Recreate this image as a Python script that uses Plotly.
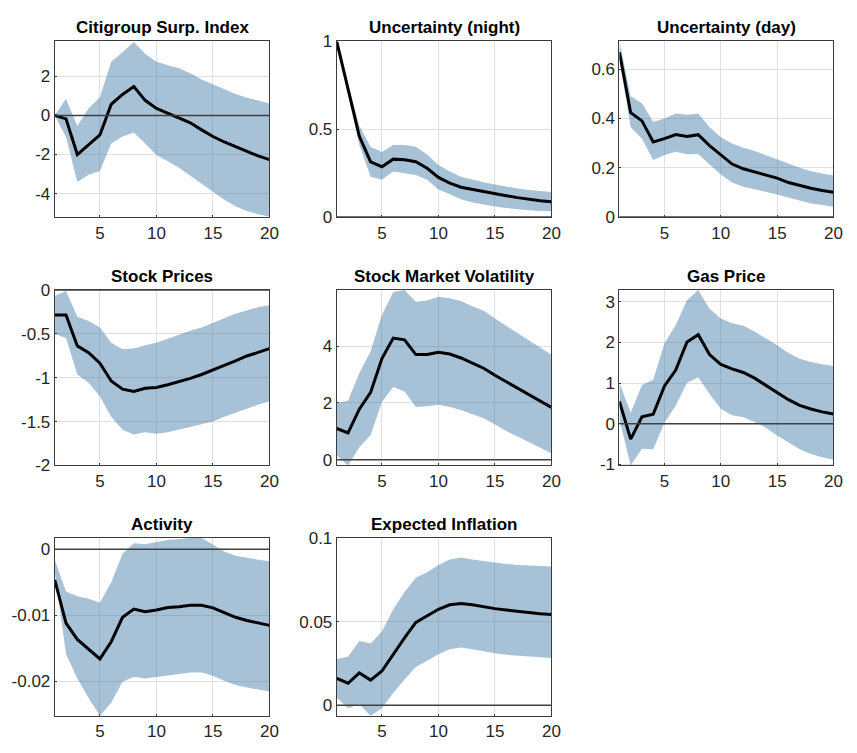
import plotly.graph_objects as go

# Horizon (periods after the shock)
horizon = list(range(1, 21))

# Panel titles
titles = [
    "Citigroup Surp. Index", "Uncertainty (night)", "Uncertainty (day)",
    "Stock Prices", "Stock Market Volatility", "Gas Price",
    "Activity", "Expected Inflation",
]

# Point estimates and confidence bands for each response
citi_irf = [0.0, -0.18, -2.0, -1.5, -1.0, 0.57, 1.07, 1.47, 0.77, 0.36,
            0.11, -0.10, -0.38, -0.74, -1.08, -1.36, -1.60, -1.85, -2.07, -2.26]
citi_hi = [0.0, 0.85, -0.54, 0.36, 0.93, 2.74, 3.23, 3.75, 3.15, 2.74,
           2.57, 2.41, 2.16, 1.84, 1.59, 1.34, 1.10, 0.90, 0.74, 0.61]
citi_lo = [0.0, -1.11, -3.41, -3.03, -2.84, -1.44, -1.08, -0.87, -1.44, -2.02,
           -2.34, -2.67, -3.08, -3.49, -3.90, -4.31, -4.64, -4.89, -5.05, -5.18]

unc_night_irf = [1.0, 0.73, 0.46, 0.315, 0.287, 0.33, 0.326, 0.315, 0.278, 0.226,
                 0.194, 0.17, 0.157, 0.144, 0.133, 0.122, 0.111, 0.10, 0.093, 0.087]
unc_night_hi = [1.0, 0.76, 0.52, 0.40, 0.37, 0.41, 0.41, 0.40, 0.356, 0.296,
                0.26, 0.23, 0.213, 0.198, 0.185, 0.172, 0.163, 0.154, 0.148, 0.143]
unc_night_lo = [1.0, 0.70, 0.41, 0.23, 0.213, 0.26, 0.25, 0.24, 0.213, 0.157,
                0.13, 0.102, 0.083, 0.07, 0.061, 0.052, 0.044, 0.039, 0.035, 0.033]

unc_day_irf = [0.668, 0.423, 0.39, 0.305, 0.318, 0.335, 0.327, 0.334, 0.29, 0.252,
               0.215, 0.196, 0.184, 0.171, 0.158, 0.14, 0.127, 0.117, 0.108, 0.101]
unc_day_hi = [0.712, 0.49, 0.462, 0.386, 0.40, 0.42, 0.415, 0.42, 0.364, 0.324,
              0.298, 0.281, 0.268, 0.252, 0.235, 0.217, 0.20, 0.186, 0.177, 0.169]
unc_day_lo = [0.64, 0.364, 0.318, 0.232, 0.252, 0.265, 0.255, 0.256, 0.213, 0.173,
              0.14, 0.123, 0.113, 0.104, 0.092, 0.079, 0.066, 0.055, 0.049, 0.042]

stock_irf = [-0.285, -0.285, -0.637, -0.715, -0.833, -1.037, -1.13, -1.156, -1.12, -1.11,
             -1.08, -1.044, -1.007, -0.963, -0.915, -0.859, -0.807, -0.752, -0.711, -0.667]
stock_hi = [-0.067, -0.01, -0.304, -0.352, -0.426, -0.60, -0.674, -0.667, -0.63, -0.60,
            -0.556, -0.507, -0.463, -0.426, -0.378, -0.322, -0.27, -0.23, -0.196, -0.174]
stock_lo = [-0.50, -0.548, -0.963, -1.056, -1.215, -1.444, -1.593, -1.648, -1.622, -1.637,
            -1.622, -1.593, -1.563, -1.537, -1.50, -1.444, -1.396, -1.352, -1.307, -1.267]

vol_irf = [1.10, 0.95, 1.78, 2.37, 3.56, 4.28, 4.22, 3.70, 3.70, 3.78,
           3.72, 3.58, 3.40, 3.22, 2.97, 2.74, 2.52, 2.29, 2.06, 1.84]
vol_hi = [1.99, 2.08, 3.05, 3.82, 5.09, 5.90, 5.97, 5.56, 5.60, 5.73,
          5.68, 5.58, 5.40, 5.24, 4.97, 4.71, 4.44, 4.18, 3.92, 3.69]
vol_lo = [0.16, -0.20, 0.44, 0.87, 2.03, 2.56, 2.40, 1.86, 1.88, 1.94,
          1.86, 1.75, 1.60, 1.46, 1.24, 1.01, 0.82, 0.61, 0.42, 0.22]

gas_irf = [0.55, -0.38, 0.17, 0.23, 0.93, 1.32, 2.01, 2.19, 1.70, 1.46,
           1.35, 1.26, 1.12, 0.95, 0.77, 0.59, 0.45, 0.36, 0.29, 0.24]
gas_hi = [1.00, 0.27, 0.95, 1.08, 1.98, 2.43, 3.04, 3.29, 2.83, 2.59,
          2.47, 2.41, 2.27, 2.11, 1.93, 1.74, 1.60, 1.52, 1.46, 1.42]
gas_lo = [0.10, -1.03, -0.62, -0.63, 0.02, 0.45, 1.01, 1.14, 0.73, 0.37,
          0.21, 0.16, 0.04, -0.10, -0.29, -0.46, -0.63, -0.75, -0.83, -0.89]

act_irf = [-0.00463, -0.0112, -0.01365, -0.01512, -0.0166, -0.0140, -0.0103, -0.00906, -0.00946, -0.00921,
           -0.00882, -0.00872, -0.00847, -0.00847, -0.00887, -0.0096, -0.0103, -0.01079, -0.01118, -0.01153]
act_hi = [-0.00158, -0.0064, -0.0071, -0.0075, -0.0081, -0.0050, -0.00069, 0.00089, 0.00074, 0.00103,
          0.00138, 0.00153, 0.00172, 0.00172, 0.00074, -0.00034, -0.00099, -0.00133, -0.00158, -0.00182]
act_lo = [-0.0035, -0.01586, -0.01956, -0.02251, -0.02522, -0.02325, -0.02005, -0.01931, -0.01956, -0.01931,
          -0.01906, -0.01892, -0.01867, -0.01867, -0.01916, -0.0199, -0.02054, -0.02094, -0.02128, -0.02153]

infl_irf = [0.0161, 0.0132, 0.0194, 0.0151, 0.0205, 0.0306, 0.0403, 0.0496, 0.0535, 0.0574,
            0.0601, 0.0609, 0.0601, 0.0589, 0.0578, 0.057, 0.0562, 0.0554, 0.0548, 0.0543]
infl_hi = [0.0277, 0.0291, 0.0384, 0.037, 0.0442, 0.0574, 0.0678, 0.0762, 0.0795, 0.0839,
           0.0872, 0.0884, 0.0872, 0.0862, 0.0853, 0.0845, 0.0839, 0.0835, 0.0831, 0.0829]
infl_lo = [0.0045, -0.0017, 0.0006, -0.0062, -0.0017, 0.0074, 0.0155, 0.0229, 0.0267, 0.0306,
           0.0335, 0.0345, 0.0335, 0.0322, 0.0312, 0.0302, 0.0297, 0.0291, 0.0287, 0.0283]

# Y-axis limits per panel
ylims = [
    [-5.2, 3.78],
    [0, 1],
    [0, 0.712],
    [-2, 0],
    [-0.2, 5.97],
    [-1.03, 3.29],
    [-0.0252, 0.0017],
    [-0.0062, 0.1],
]

# Y tick values per panel
yticks = [
    [-4, -2, 0, 2],
    [0, 0.5, 1],
    [0, 0.2, 0.4, 0.6],
    [-2, -1.5, -1, -0.5, 0],
    [0, 2, 4],
    [-1, 0, 1, 2, 3],
    [-0.02, -0.01, 0],
    [0, 0.05, 0.1],
]
yticklabels = [
    ["-4", "-2", "0", "2"],
    ["0", "0.5", "1"],
    ["0", "0.2", "0.4", "0.6"],
    ["-2", "-1.5", "-1", "-0.5", "0"],
    ["0", "2", "4"],
    ["-1", "0", "1", "2", "3"],
    ["-0.02", "-0.01", "0"],
    ["0", "0.05", "0.1"],
]
xticks = [5, 10, 15, 20]

irfs = [citi_irf, unc_night_irf, unc_day_irf, stock_irf, vol_irf, gas_irf, act_irf, infl_irf]
his = [citi_hi, unc_night_hi, unc_day_hi, stock_hi, vol_hi, gas_hi, act_hi, infl_hi]
los = [citi_lo, unc_night_lo, unc_day_lo, stock_lo, vol_lo, gas_lo, act_lo, infl_lo]

W, H = 857, 753
# Axes boxes in pixels: (left, right) per column, (top, bottom) per row
cols_px = [(55.3, 272.3), (340.3, 557.3), (626.0, 842.3)]
rows_px = [(33.3, 213.5), (288.3, 468.3), (542.7, 725.0)]

BAND = "rgba(45,110,160,0.42)"
AX_COLOR = "#3c3c3c"
TXT_COLOR = "#262626"
GRID = "#e0e0e0"
FONT = "Liberation Sans, Arial, sans-serif"
TICK_SIZE = 17
TITLE_SIZE = 17

fig = go.Figure()
layout = dict(
    width=W, height=H,
    margin=dict(l=0, r=0, t=0, b=0),
    paper_bgcolor="white", plot_bgcolor="white",
    showlegend=False,
    font=dict(family=FONT, color=TXT_COLOR, size=TICK_SIZE),
)
annotations = []
shapes = []

for k in range(8):
    r, c = divmod(k, 3)
    n = k + 1
    xa = "x" if n == 1 else f"x{n}"
    ya = "y" if n == 1 else f"y{n}"
    xl, xr = cols_px[c]
    yt, yb = rows_px[r]
    xdom = [xl / W, xr / W]
    ydom = [1 - yb / H, 1 - yt / H]

    lo, hi, irf = los[k], his[k], irfs[k]

    # Confidence band (lower edge, then upper edge filled down to it)
    fig.add_trace(go.Scatter(x=horizon, y=lo, mode="lines", line=dict(width=0, color=BAND),
                             hoverinfo="skip", xaxis=xa, yaxis=ya))
    fig.add_trace(go.Scatter(x=horizon, y=hi, mode="lines", line=dict(width=0, color=BAND),
                             fill="tonexty", fillcolor=BAND, hoverinfo="skip", xaxis=xa, yaxis=ya))
    # Point estimate
    fig.add_trace(go.Scatter(x=horizon, y=irf, mode="lines", line=dict(width=3, color="black"),
                             xaxis=xa, yaxis=ya))

    axis_common = dict(
        showline=True, mirror=True, linecolor=AX_COLOR, linewidth=1,
        showgrid=True, gridcolor=GRID, gridwidth=1,
        zeroline=False, ticks="inside", ticklen=2, tickcolor=AX_COLOR,
        tickfont=dict(size=TICK_SIZE, color=TXT_COLOR, family=FONT),
    )
    layout["xaxis" if n == 1 else f"xaxis{n}"] = dict(
        domain=xdom, anchor=ya, range=[1, 20], tickmode="array",
        tickvals=xticks, ticktext=[str(t) for t in xticks], **axis_common)
    layout["yaxis" if n == 1 else f"yaxis{n}"] = dict(
        domain=ydom, anchor=xa, range=ylims[k], tickmode="array",
        tickvals=yticks[k], ticktext=yticklabels[k], **axis_common)

    # Zero reference line
    shapes.append(dict(type="line", xref=f"{xa} domain", yref=ya, x0=0, x1=1, y0=0, y1=0,
                       line=dict(color="#404040", width=1.5), layer="above"))

    annotations.append(dict(
        text=f"<b>{titles[k]}</b>", x=(xdom[0] + xdom[1]) / 2, y=ydom[1],
        xref="paper", yref="paper", xanchor="center", yanchor="bottom",
        yshift=2, showarrow=False, font=dict(size=TITLE_SIZE, color="black", family=FONT)))

layout["annotations"] = annotations
layout["shapes"] = shapes
fig.update_layout(**layout)
fig.write_html("out.html")
